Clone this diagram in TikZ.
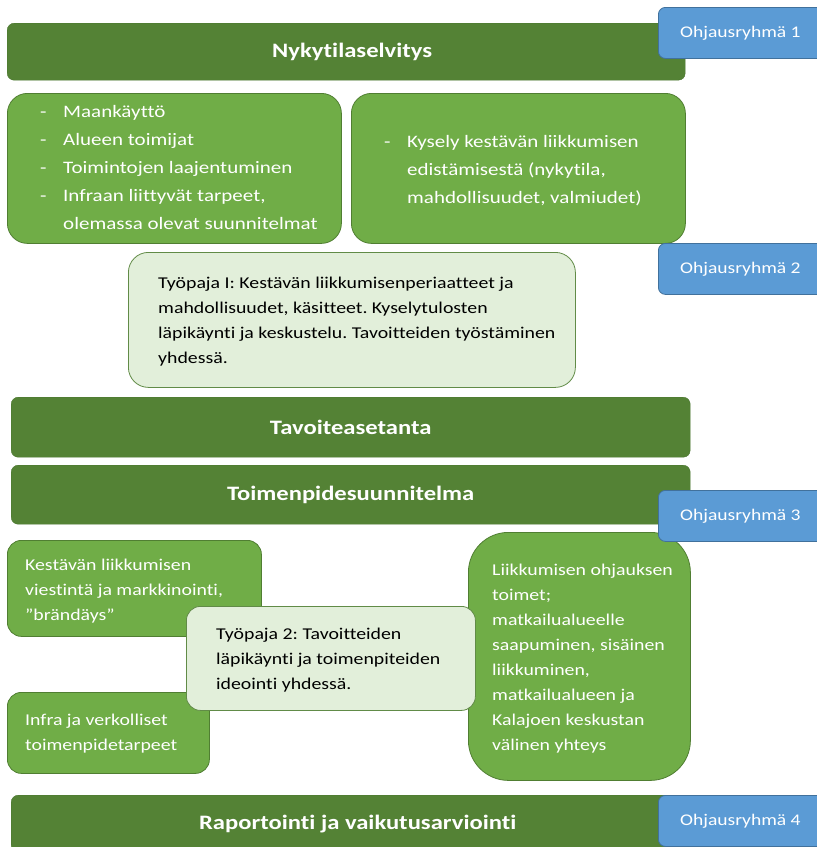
\documentclass[tikz,border=0pt]{standalone}
\usepackage{fontspec}
\setmainfont[FakeStretch=1.2,Ligatures=NoCommon]{Carlito}
\frenchspacing
\definecolor{dkg}{HTML}{548235}
\definecolor{dkgb}{HTML}{4A7530}
\definecolor{mdg}{HTML}{70AD47}
\definecolor{mdgb}{HTML}{507E32}
\definecolor{ltg}{HTML}{E2EFDA}
\definecolor{blu}{HTML}{5B9BD5}
\definecolor{blub}{HTML}{41719C}
\begin{document}
\begin{tikzpicture}[x=1pt,y=-1pt,
  darkbar/.style={draw=dkgb,fill=dkg,rounded corners=7pt,anchor=north west,inner sep=0pt,
    text=white,font=\fontsize{20.5}{24}\selectfont\bfseries},
  midbox/.style={draw=mdgb,line width=0.8pt,fill=mdg,anchor=north west,inner sep=0pt},
  litbox/.style={draw=mdgb!90,line width=0.8pt,fill=ltg,anchor=north west,inner sep=0pt},
  bluebox/.style={draw=blub,line width=0.8pt,fill=blu,rounded corners=7pt,anchor=north west,inner sep=0pt,
    minimum width=170pt,minimum height=51pt,text=white,font=\fontsize{16.3}{19}\selectfont},
  wline/.style={anchor=base west,inner sep=0pt,text=white,font=\fontsize{17.5}{20}\selectfont},
  wsline/.style={anchor=base west,inner sep=0pt,text=white,font=\fontsize{16.5}{19}\selectfont},
  bline/.style={anchor=base west,inner sep=0pt,text=black,font=\fontsize{16.5}{19}\selectfont}]
\useasboundingbox (0,0) rectangle (817,847);
\clip (0,0) rectangle (817,847);
% Nykytilaselvitys
\node[darkbar,minimum width=678pt,minimum height=57pt] (nyky) at (7,23) {\hspace*{12pt}Nykytilaselvitys};
\node[bluebox] (o1) at (658,7) {\hspace*{-6pt}Ohjausryhmä 1};
% top green boxes
\node[midbox,rounded corners=20pt,minimum width=334pt,minimum height=150pt] (lb) at (7,93) {};
\node[midbox,rounded corners=20pt,minimum width=334pt,minimum height=150pt] (rb) at (351,93) {};
\foreach \t [count=\i] in {Maankäyttö,Alueen toimijat,Toimintojen laajentuminen,{Infraan liittyvät tarpeet,}}
  {\node[wline] (ld\i) at (40,{117+28*(\i-1)}) {-};
   \node[wline] (lt\i) at (63,{117+28*(\i-1)}) {\t};}
\node[wline] (lt5) at (63,229) {olemassa olevat suunnitelmat};
\node[wline] (rd1) at (384,147) {-};
\foreach \t [count=\i] in {Kysely kestävän liikkumisen,{edistämisestä (nykytila,},{mahdollisuudet, valmiudet)}}
  \node[wline] (rt\i) at (407,{147+28*(\i-1)}) {\t};
% Tyopaja I
\node[bluebox] (o2) at (658,243) {\hspace*{-6pt}Ohjausryhmä 2};
\node[litbox,rounded corners=20pt,minimum width=447pt,minimum height=135pt] (tp1) at (128,252) {};
\foreach \t [count=\i] in {Työpaja I: Kestävän liikkumisenperiaatteet ja,{mahdollisuudet, käsitteet. Kyselytulosten},läpikäynti ja keskustelu. Tavoitteiden työstäminen,yhdessä.}
  \node[bline] (tpt\i) at (158,{288+25*(\i-1)}) {\t};
% bars
\node[darkbar,minimum width=679pt,minimum height=60pt] (tav) at (11,397) {Tavoiteasetanta};
\node[darkbar,minimum width=679pt,minimum height=59pt] (toim) at (11,465) {Toimenpidesuunnitelma};
% lower boxes
\node[midbox,rounded corners=14pt,minimum width=254pt,minimum height=96pt] (kes) at (7,540) {};
\node[midbox,rounded corners=14pt,minimum width=202pt,minimum height=81pt] (inf) at (7,692) {};
\node[midbox,rounded corners=40pt,minimum width=222pt,minimum height=248pt] (lii) at (468,532) {};
\node[litbox,rounded corners=14pt,minimum width=289pt,minimum height=104pt] (tp2) at (186,606) {};
\node[bluebox] (o3) at (658,490) {\hspace*{-6pt}Ohjausryhmä 3};
\foreach \t [count=\i] in {Kestävän liikkumisen,{viestintä ja markkinointi,},”brändäys”}
  \node[wsline] (kt\i) at (25,{570+25*(\i-1)}) {\t};
\foreach \t [count=\i] in {Infra ja verkolliset,toimenpidetarpeet}
  \node[wsline] (it\i) at (25,{725+25*(\i-1)}) {\t};
\foreach \t [count=\i] in {Työpaja 2: Tavoitteiden,läpikäynti ja toimenpiteiden,ideointi yhdessä.}
  \node[bline] (t2t\i) at (216,{639+25*(\i-1)}) {\t};
\foreach \t [count=\i] in {Liikkumisen ohjauksen,toimet;,matkailualueelle,{saapuminen, sisäinen},{liikkuminen,},matkailualueen ja,Kalajoen keskustan,välinen yhteys}
  \node[wsline] (lit\i) at (492,{575+25*(\i-1)}) {\t};
% Raportointi
\node[darkbar,minimum width=679pt,minimum height=57pt] (rap) at (11,795) {\hspace*{14pt}Raportointi ja vaikutusarviointi};
\node[bluebox] (o4) at (658,795) {\hspace*{-6pt}Ohjausryhmä 4};
\end{tikzpicture}
\end{document}
